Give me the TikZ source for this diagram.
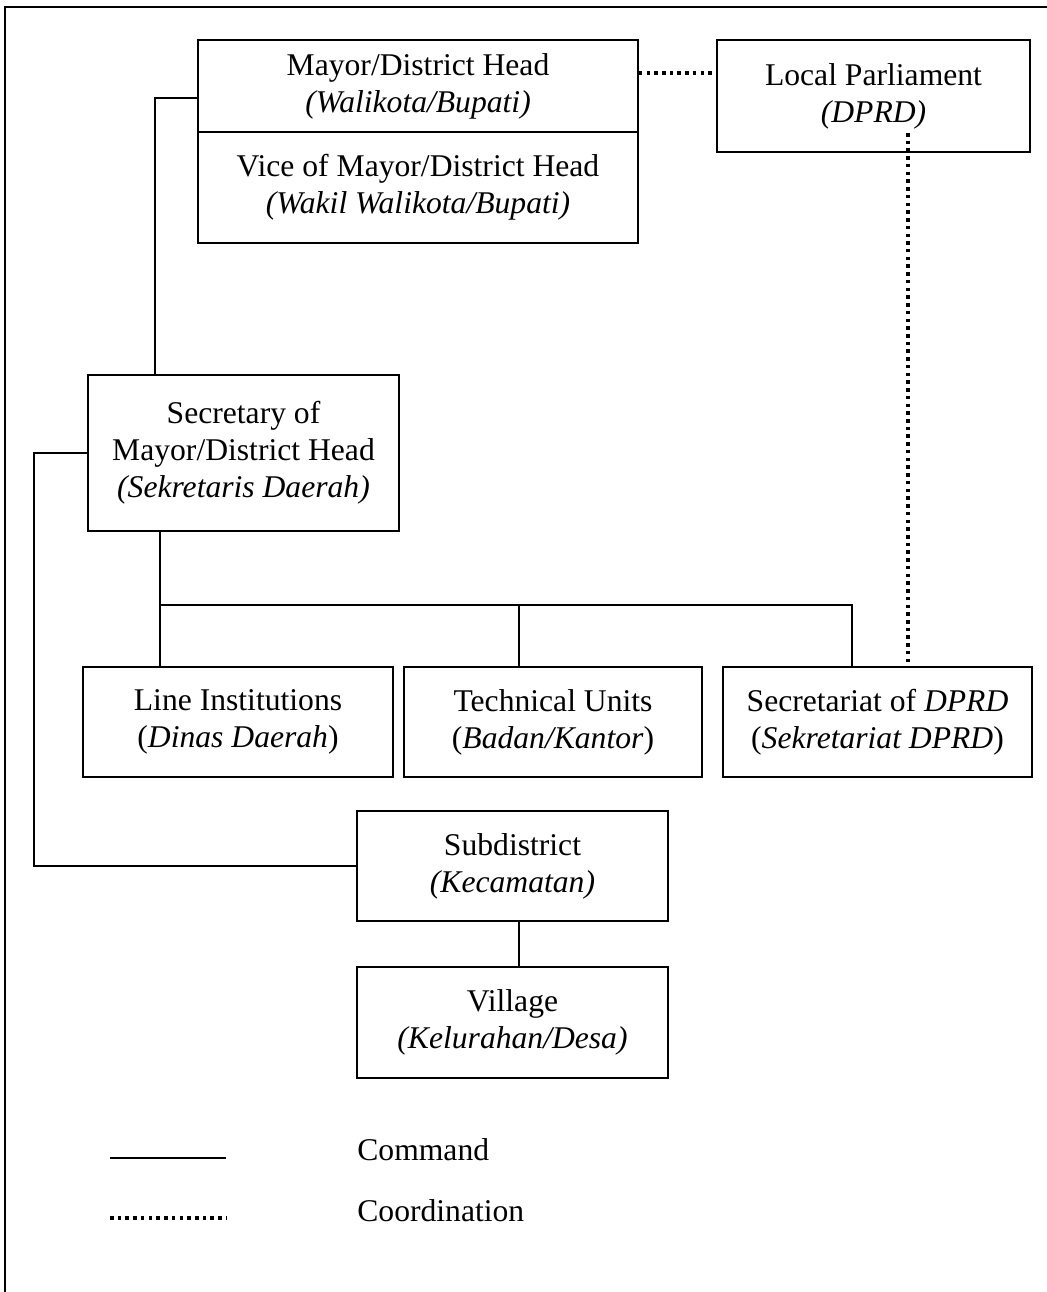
\documentclass[tikz,border=0pt]{standalone}
\usepackage{fontspec}
\setmainfont{Liberation Serif}
\usepackage{tikz}
\usetikzlibrary{calc}

\begin{document}
\begin{tikzpicture}[x={(0.02cm,0cm)}, y={(0cm,-0.02cm)},
  orgbox/.style={draw, rectangle, fill=white, line width=1pt, align=center, inner sep=0pt,
    font=\fontsize{18}{21}\selectfont},
  cmd/.style={line width=0.8pt},
  coord/.style={line width=2.2pt, dash pattern=on 2pt off 2.4pt},
  frame/.style={line width=1.5pt},
  legendtext/.style={anchor=west, inner sep=0pt, font=\fontsize{18}{21}\selectfont}]
  \useasboundingbox (0,0) rectangle (1047,1292);
  % Frame
  \draw[frame] (5,1292) -- (5,7) -- (1047,7);
  % Nodes
  \node[orgbox, minimum width=8.8cm, minimum height=1.84cm] (mayor) at (418,86)
    {Mayor/District Head\\\textit{(Walikota/Bupati)}};
  \node[orgbox, minimum width=8.8cm, minimum height=2.22cm] (vice) at (418,187.5)
    {Vice of Mayor/District Head\\\textit{(Wakil Walikota/Bupati)}};
  \node[orgbox, minimum width=6.26cm, minimum height=2.24cm] (parl) at (873.5,96)
    {Local Parliament\\\textit{(DPRD)}};
  \node[orgbox, minimum width=6.22cm, minimum height=3.12cm] (secr) at (243.5,453)
    {Secretary of\\Mayor/District Head\\\textit{(Sekretaris Daerah)}};
  \node[orgbox, minimum width=6.2cm, minimum height=2.2cm] (dinas) at (238,722)
    {Line Institutions\\(\textit{Dinas Daerah})};
  \node[orgbox, minimum width=5.96cm, minimum height=2.2cm] (badan) at (553,722)
    {Technical Units\\(\textit{Badan/Kantor})};
  \node[orgbox, minimum width=6.18cm, minimum height=2.2cm] (sekwan) at (877.5,722)
    {Secretariat of \textit{DPRD}\\(\textit{Sekretariat DPRD})};
  \node[orgbox, minimum width=6.22cm, minimum height=2.2cm] (kec) at (512.5,866)
    {Subdistrict\\\textit{(Kecamatan)}};
  \node[orgbox, minimum width=6.22cm, minimum height=2.22cm] (desa) at (512.5,1022.5)
    {Village\\\textit{(Kelurahan/Desa)}};
  \coordinate (dprdtail) at (908,133);
  \coordinate (bus) at (160,605);
  % Edges
  \draw[coord] (mayor.east |- 0,73) -- (parl.west |- 0,73);
  \draw[coord] (dprdtail) -- (dprdtail |- sekwan.north);
  \draw[cmd] (mayor.west |- 0,98) -| (secr.north -| 155,0);
  \draw[cmd] (secr.west) -- ++(-53,0) |- (kec.west);
  \draw[cmd] (secr.south -| bus) -- (bus) -- (bus -| 852,0) -- (sekwan.north -| 852,0);
  \draw[cmd] (bus) -- (dinas.north -| bus);
  \draw[cmd] (bus -| 519,0) -- (badan.north -| 519,0);
  \draw[cmd] (kec.south -| 519,0) -- (desa.north -| 519,0);
  % Legend
  \coordinate (cmdA) at (110,1158);
  \coordinate (cmdB) at (226,1158);
  \coordinate (coordA) at (110,1218);
  \coordinate (coordB) at (226,1218);
  \draw[cmd] (cmdA) -- (cmdB);
  \draw[coord] (coordA) -- (coordB);
  \node[legendtext] (cmdtxt) at (357,1150) {Command};
  \node[legendtext] (coordtxt) at (357,1211) {Coordination};
\end{tikzpicture}
\end{document}
